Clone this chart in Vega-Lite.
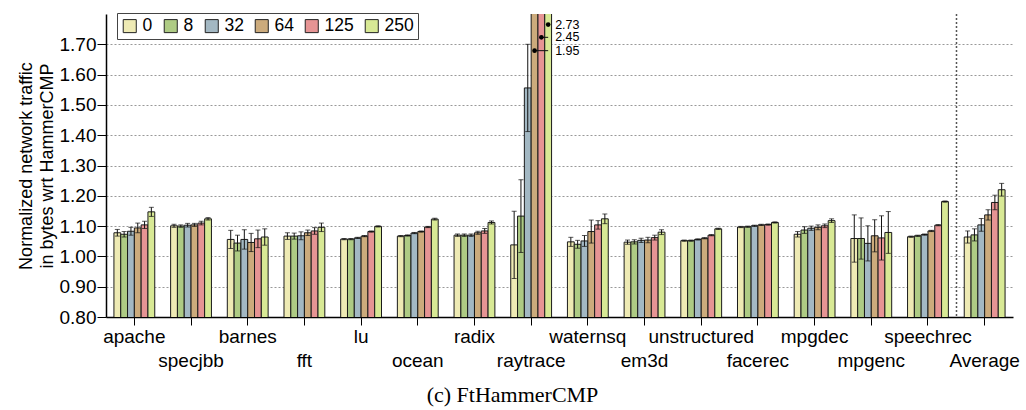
{
"$schema": "https://vega.github.io/schema/vega-lite/v6.json",
"width": 907, "height": 303,
"autosize": "none",
"padding": {"left": 106, "top": 14, "right": 13, "bottom": 93},
"config": {"font": "Liberation Sans", "view": {"stroke": null},
 "axisY": {"titleFontSize": 18, "titleFontWeight": "normal", "titleLineHeight": 21, "titleColor": "black", "titlePadding": 3, "labelFontSize": 19, "labelColor": "black", "tickSize": 9, "tickColor": "black", "labelPadding": 1, "domainColor": "black", "domainWidth": 1.5, "grid": true, "gridDash": [2, 2], "gridColor": "#999", "gridWidth": 1, "format": ".2f"},
 "axisX": {"labelFontSize": 19, "labelColor": "black", "tickColor": "black", "tickSize": 8, "domainColor": "black", "domainWidth": 1.5, "labelPadding": 2, "labelLineHeight": 24, "labelAngle": 0, "labelOverlap": false, "grid": false}},
"title": {"text": "(c) FtHammerCMP", "orient": "bottom", "font": "Liberation Serif", "fontSize": 22, "fontWeight": "normal", "color": "black", "dx": -47, "offset": 15},
"datasets": {
"main": [
{"b":"apache","s":"0","v":1.078,"lo":1.067,"hi":1.089},
{"b":"apache","s":"8","v":1.073,"lo":1.064,"hi":1.082},
{"b":"apache","s":"32","v":1.083,"lo":1.070,"hi":1.096},
{"b":"apache","s":"64","v":1.094,"lo":1.078,"hi":1.110},
{"b":"apache","s":"125","v":1.104,"lo":1.092,"hi":1.116},
{"b":"apache","s":"250","v":1.147,"lo":1.132,"hi":1.162},
{"b":"specjbb","s":"0","v":1.101,"lo":1.096,"hi":1.106},
{"b":"specjbb","s":"8","v":1.100,"lo":1.096,"hi":1.104},
{"b":"specjbb","s":"32","v":1.103,"lo":1.097,"hi":1.109},
{"b":"specjbb","s":"64","v":1.104,"lo":1.099,"hi":1.109},
{"b":"specjbb","s":"125","v":1.110,"lo":1.104,"hi":1.116},
{"b":"specjbb","s":"250","v":1.124,"lo":1.120,"hi":1.128},
{"b":"barnes","s":"0","v":1.056,"lo":1.026,"hi":1.086},
{"b":"barnes","s":"8","v":1.044,"lo":1.018,"hi":1.070},
{"b":"barnes","s":"32","v":1.056,"lo":1.024,"hi":1.088},
{"b":"barnes","s":"64","v":1.046,"lo":1.016,"hi":1.076},
{"b":"barnes","s":"125","v":1.058,"lo":1.029,"hi":1.087},
{"b":"barnes","s":"250","v":1.064,"lo":1.037,"hi":1.091},
{"b":"fft","s":"0","v":1.067,"lo":1.056,"hi":1.078},
{"b":"fft","s":"8","v":1.067,"lo":1.057,"hi":1.077},
{"b":"fft","s":"32","v":1.068,"lo":1.055,"hi":1.081},
{"b":"fft","s":"64","v":1.078,"lo":1.069,"hi":1.087},
{"b":"fft","s":"125","v":1.084,"lo":1.073,"hi":1.095},
{"b":"fft","s":"250","v":1.096,"lo":1.082,"hi":1.110},
{"b":"lu","s":"0","v":1.057,"lo":1.055,"hi":1.059},
{"b":"lu","s":"8","v":1.057,"lo":1.055,"hi":1.059},
{"b":"lu","s":"32","v":1.061,"lo":1.059,"hi":1.063},
{"b":"lu","s":"64","v":1.067,"lo":1.065,"hi":1.069},
{"b":"lu","s":"125","v":1.082,"lo":1.080,"hi":1.084},
{"b":"lu","s":"250","v":1.099,"lo":1.097,"hi":1.101},
{"b":"ocean","s":"0","v":1.067,"lo":1.065,"hi":1.069},
{"b":"ocean","s":"8","v":1.069,"lo":1.067,"hi":1.071},
{"b":"ocean","s":"32","v":1.077,"lo":1.075,"hi":1.079},
{"b":"ocean","s":"64","v":1.082,"lo":1.080,"hi":1.084},
{"b":"ocean","s":"125","v":1.097,"lo":1.095,"hi":1.099},
{"b":"ocean","s":"250","v":1.123,"lo":1.120,"hi":1.126},
{"b":"radix","s":"0","v":1.070,"lo":1.066,"hi":1.074},
{"b":"radix","s":"8","v":1.070,"lo":1.066,"hi":1.074},
{"b":"radix","s":"32","v":1.070,"lo":1.066,"hi":1.074},
{"b":"radix","s":"64","v":1.078,"lo":1.073,"hi":1.083},
{"b":"radix","s":"125","v":1.084,"lo":1.076,"hi":1.092},
{"b":"radix","s":"250","v":1.112,"lo":1.107,"hi":1.117},
{"b":"raytrace","s":"0","v":1.038,"lo":0.927,"hi":1.149},
{"b":"raytrace","s":"8","v":1.133,"lo":1.013,"hi":1.253},
{"b":"raytrace","s":"32","v":1.556,"lo":1.412,"hi":1.700},
{"b":"raytrace","s":"64","v":1.95},
{"b":"raytrace","s":"125","v":2.45},
{"b":"raytrace","s":"250","v":2.73},
{"b":"waternsq","s":"0","v":1.048,"lo":1.033,"hi":1.063},
{"b":"waternsq","s":"8","v":1.040,"lo":1.027,"hi":1.053},
{"b":"waternsq","s":"32","v":1.051,"lo":1.033,"hi":1.069},
{"b":"waternsq","s":"64","v":1.082,"lo":1.044,"hi":1.120},
{"b":"waternsq","s":"125","v":1.104,"lo":1.090,"hi":1.118},
{"b":"waternsq","s":"250","v":1.124,"lo":1.108,"hi":1.140},
{"b":"em3d","s":"0","v":1.047,"lo":1.040,"hi":1.054},
{"b":"em3d","s":"8","v":1.048,"lo":1.041,"hi":1.055},
{"b":"em3d","s":"32","v":1.053,"lo":1.046,"hi":1.060},
{"b":"em3d","s":"64","v":1.054,"lo":1.045,"hi":1.063},
{"b":"em3d","s":"125","v":1.062,"lo":1.054,"hi":1.070},
{"b":"em3d","s":"250","v":1.080,"lo":1.072,"hi":1.088},
{"b":"unstructured","s":"0","v":1.052,"lo":1.050,"hi":1.054},
{"b":"unstructured","s":"8","v":1.052,"lo":1.050,"hi":1.054},
{"b":"unstructured","s":"32","v":1.056,"lo":1.054,"hi":1.058},
{"b":"unstructured","s":"64","v":1.060,"lo":1.058,"hi":1.062},
{"b":"unstructured","s":"125","v":1.070,"lo":1.068,"hi":1.072},
{"b":"unstructured","s":"250","v":1.091,"lo":1.089,"hi":1.093},
{"b":"facerec","s":"0","v":1.097,"lo":1.095,"hi":1.099},
{"b":"facerec","s":"8","v":1.098,"lo":1.096,"hi":1.100},
{"b":"facerec","s":"32","v":1.101,"lo":1.099,"hi":1.103},
{"b":"facerec","s":"64","v":1.104,"lo":1.102,"hi":1.106},
{"b":"facerec","s":"125","v":1.105,"lo":1.103,"hi":1.107},
{"b":"facerec","s":"250","v":1.112,"lo":1.110,"hi":1.114},
{"b":"mpgdec","s":"0","v":1.073,"lo":1.064,"hi":1.082},
{"b":"mpgdec","s":"8","v":1.087,"lo":1.076,"hi":1.098},
{"b":"mpgdec","s":"32","v":1.093,"lo":1.086,"hi":1.100},
{"b":"mpgdec","s":"64","v":1.096,"lo":1.088,"hi":1.104},
{"b":"mpgdec","s":"125","v":1.101,"lo":1.095,"hi":1.107},
{"b":"mpgdec","s":"250","v":1.118,"lo":1.112,"hi":1.124},
{"b":"mpgenc","s":"0","v":1.059,"lo":0.981,"hi":1.137},
{"b":"mpgenc","s":"8","v":1.059,"lo":0.991,"hi":1.127},
{"b":"mpgenc","s":"32","v":1.043,"lo":0.985,"hi":1.101},
{"b":"mpgenc","s":"64","v":1.068,"lo":1.015,"hi":1.121},
{"b":"mpgenc","s":"125","v":1.061,"lo":0.988,"hi":1.134},
{"b":"mpgenc","s":"250","v":1.079,"lo":1.010,"hi":1.148},
{"b":"speechrec","s":"0","v":1.065,"lo":1.063,"hi":1.067},
{"b":"speechrec","s":"8","v":1.068,"lo":1.066,"hi":1.070},
{"b":"speechrec","s":"32","v":1.072,"lo":1.070,"hi":1.074},
{"b":"speechrec","s":"64","v":1.084,"lo":1.082,"hi":1.086},
{"b":"speechrec","s":"125","v":1.103,"lo":1.101,"hi":1.105},
{"b":"speechrec","s":"250","v":1.181,"lo":1.179,"hi":1.183},
{"b":"Average","s":"0","v":1.064,"lo":1.044,"hi":1.084},
{"b":"Average","s":"8","v":1.071,"lo":1.051,"hi":1.091},
{"b":"Average","s":"32","v":1.104,"lo":1.083,"hi":1.125},
{"b":"Average","s":"64","v":1.137,"lo":1.120,"hi":1.154},
{"b":"Average","s":"125","v":1.178,"lo":1.154,"hi":1.202},
{"b":"Average","s":"250","v":1.220,"lo":1.199,"hi":1.241}
],
"lines": [
{"g":"1.95","b":"raytrace","s":"64","ly":1.679},
{"g":"1.95","b":"raytrace","s":"250","ly":1.679},
{"g":"2.45","b":"raytrace","s":"125","ly":1.723},
{"g":"2.45","b":"raytrace","s":"250","ly":1.723}
],
"dots": [
{"b":"raytrace","s":"64","ly":1.679},
{"b":"raytrace","s":"125","ly":1.723},
{"b":"raytrace","s":"250","ly":1.765}
],
"labels": [
{"b":"raytrace","s":"250","ly":1.679,"t":"1.95"},
{"b":"raytrace","s":"250","ly":1.723,"t":"2.45"},
{"b":"raytrace","s":"250","ly":1.765,"t":"2.73"}
],
"sep": [{"b":"Average"}]
},
"layer": [
{
"data": {"name": "main"},
"mark": {"type": "bar", "stroke": "#1a1a1a", "strokeWidth": 1, "clip": true},
"encoding": {
"x": {"field": "b", "type": "nominal",
 "scale": {"domain": ["apache","specjbb","barnes","fft","lu","ocean","radix","raytrace","waternsq","em3d","unstructured","facerec","mpgdec","mpgenc","speechrec","Average"], "paddingInner": 0.28, "paddingOuter": 0.14},
 "axis": {"title": null,
  "labelExpr": "indexof(['specjbb','fft','ocean','raytrace','em3d','facerec','mpgenc','Average'], datum.value) >= 0 ? ['', datum.value] : datum.value"}},
"xOffset": {"field": "s", "type": "nominal", "scale": {"domain": ["0","8","32","64","125","250"], "paddingInner": 0, "paddingOuter": 0}},
"y": {"field": "v", "type": "quantitative", "scale": {"domain": [0.8, 1.8], "zero": false, "nice": false},
 "axis": {"title": ["Normalized network traffic", "in bytes wrt HammerCMP"], "values": [0.8, 0.9, 1.0, 1.1, 1.2, 1.3, 1.4, 1.5, 1.6, 1.7], "tickCount": 10}},
"color": {"field": "s", "type": "nominal", "scale": {"domain": ["0","8","32","64","125","250"], "range": ["#eeeab4", "#aecb84", "#a3b8c3", "#ccab7c", "#e69494", "#d8e995"]},
 "legend": {"title": null, "orient": "none", "legendX": 11, "legendY": -1, "direction": "horizontal", "symbolType": "square", "symbolSize": 170, "symbolStrokeColor": "#222", "symbolStrokeWidth": 1, "symbolOpacity": 1, "labelFontSize": 17.5, "labelColor": "black", "columnPadding": 9, "labelOffset": 4, "padding": 4, "strokeColor": "#444", "fillColor": "white"}}
}
},
{
"data": {"name": "main"},
"transform": [{"filter": "isValid(datum.lo)"}],
"mark": {"type": "rule", "color": "#111", "strokeWidth": 1},
"encoding": {
"x": {"field": "b", "type": "nominal"},
"xOffset": {"field": "s", "type": "nominal"},
"y": {"field": "lo", "type": "quantitative", "axis": {"title": ["Normalized network traffic", "in bytes wrt HammerCMP"], "values": [0.8, 0.9, 1.0, 1.1, 1.2, 1.3, 1.4, 1.5, 1.6, 1.7], "tickCount": 10}},
"y2": {"field": "hi"}
}
},
{
"data": {"name": "main"},
"transform": [{"filter": "isValid(datum.lo)"}],
"mark": {"type": "tick", "color": "#111", "thickness": 1, "size": 5},
"encoding": {
"x": {"field": "b", "type": "nominal"},
"xOffset": {"field": "s", "type": "nominal"},
"y": {"field": "lo", "type": "quantitative", "axis": {"title": ["Normalized network traffic", "in bytes wrt HammerCMP"], "values": [0.8, 0.9, 1.0, 1.1, 1.2, 1.3, 1.4, 1.5, 1.6, 1.7], "tickCount": 10}}
}
},
{
"data": {"name": "main"},
"transform": [{"filter": "isValid(datum.hi)"}],
"mark": {"type": "tick", "color": "#111", "thickness": 1, "size": 5},
"encoding": {
"x": {"field": "b", "type": "nominal"},
"xOffset": {"field": "s", "type": "nominal"},
"y": {"field": "hi", "type": "quantitative", "axis": {"title": ["Normalized network traffic", "in bytes wrt HammerCMP"], "values": [0.8, 0.9, 1.0, 1.1, 1.2, 1.3, 1.4, 1.5, 1.6, 1.7], "tickCount": 10}}
}
},
{
"data": {"name": "lines"},
"mark": {"type": "line", "color": "#111", "strokeWidth": 1},
"encoding": {
"x": {"field": "b", "type": "nominal"},
"xOffset": {"field": "s", "type": "nominal"},
"y": {"field": "ly", "type": "quantitative", "axis": {"title": ["Normalized network traffic", "in bytes wrt HammerCMP"], "values": [0.8, 0.9, 1.0, 1.1, 1.2, 1.3, 1.4, 1.5, 1.6, 1.7], "tickCount": 10}},
"detail": {"field": "g"}
}
},
{
"data": {"name": "dots"},
"mark": {"type": "point", "filled": true, "color": "black", "size": 22, "opacity": 1},
"encoding": {
"x": {"field": "b", "type": "nominal"},
"xOffset": {"field": "s", "type": "nominal"},
"y": {"field": "ly", "type": "quantitative", "axis": {"title": ["Normalized network traffic", "in bytes wrt HammerCMP"], "values": [0.8, 0.9, 1.0, 1.1, 1.2, 1.3, 1.4, 1.5, 1.6, 1.7], "tickCount": 10}}
}
},
{
"data": {"name": "labels"},
"mark": {"type": "text", "align": "left", "baseline": "middle", "dx": 7, "fontSize": 12.5, "color": "black"},
"encoding": {
"x": {"field": "b", "type": "nominal"},
"xOffset": {"field": "s", "type": "nominal"},
"y": {"field": "ly", "type": "quantitative", "axis": {"title": ["Normalized network traffic", "in bytes wrt HammerCMP"], "values": [0.8, 0.9, 1.0, 1.1, 1.2, 1.3, 1.4, 1.5, 1.6, 1.7], "tickCount": 10}},
"text": {"field": "t"}
}
},
{
"data": {"name": "sep"},
"mark": {"type": "rule", "color": "#555", "strokeWidth": 1.5, "strokeDash": [2, 2]},
"encoding": {
"x": {"field": "b", "type": "nominal", "bandPosition": -0.19}
}
}
]
}
